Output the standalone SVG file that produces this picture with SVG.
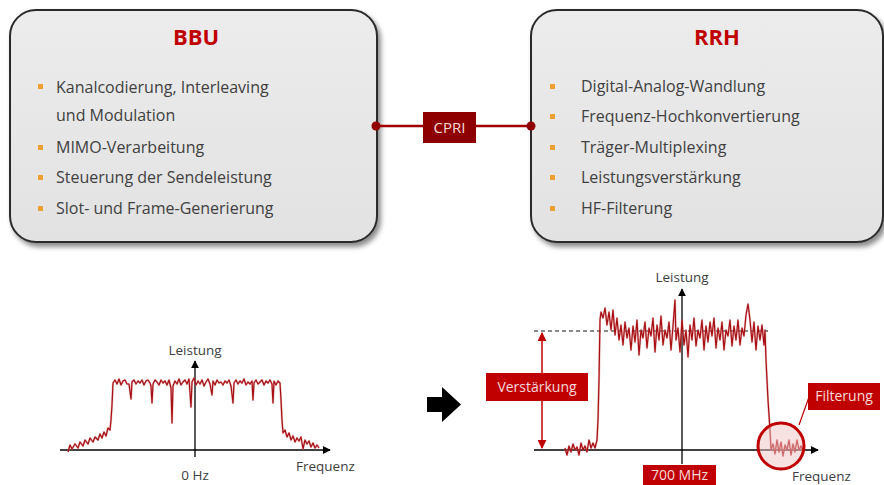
<svg xmlns="http://www.w3.org/2000/svg" width="884" height="485" viewBox="0 0 884 485">
<defs>
<filter id="sh" x="-10%" y="-10%" width="125%" height="125%">
<feDropShadow dx="3" dy="4" stdDeviation="2.5" flood-color="#000" flood-opacity="0.45"/>
</filter>
<linearGradient id="g" x1="0" y1="0" x2="0" y2="1">
<stop offset="0" stop-color="#ececec"/>
<stop offset="1" stop-color="#e2e2e2"/>
</linearGradient>
<marker id="ah" viewBox="0 0 10 10" refX="9" refY="5" markerWidth="8" markerHeight="8" markerUnits="userSpaceOnUse" orient="auto">
<path d="M0,0 L10,5 L0,10 z" fill="#000"/>
</marker>
<marker id="ra" viewBox="0 0 10 10" refX="9" refY="5" markerWidth="9" markerHeight="9" markerUnits="userSpaceOnUse" orient="auto-start-reverse">
<path d="M0,0 L10,5 L0,10 z" fill="#c00000"/>
</marker>
</defs>
<style>
.box{fill:url(#g);stroke:#2b2b2b;stroke-width:2;filter:url(#sh)}
.title{font-family:"Open Sans","Noto Sans",sans-serif;font-size:22px;font-weight:bold;fill:#c00000;text-anchor:middle}
.item{font-family:"Open Sans","Noto Sans",sans-serif;font-size:16px;fill:#404040}
.bul{fill:#f0a030}
.lbl{font-family:"Open Sans","Noto Sans",sans-serif;font-size:13.5px;fill:#404040}
.tag{font-family:"Open Sans","Noto Sans",sans-serif;font-size:14px;fill:#f7dada;text-anchor:middle}
.axis{stroke:#000;stroke-width:1.3;fill:none}
.sig{fill:none;stroke:#a80f14;stroke-width:1.2;stroke-linejoin:round}
.sig2{fill:none;stroke:#d47a7a;stroke-width:2.2;stroke-linejoin:round;opacity:0.5}
</style>

<g id="bbu">
<rect class="box" x="10" y="10" width="367" height="232" rx="26"/>
<text class="title" x="196" y="45">BBU</text>
<rect class="bul" x="38" y="84" width="5" height="5"/>
<text class="item" x="56" y="93">Kanalcodierung, Interleaving</text>
<text class="item" x="56" y="121">und Modulation</text>
<rect class="bul" x="38" y="145" width="5" height="5"/>
<text class="item" x="56" y="153">MIMO-Verarbeitung</text>
<rect class="bul" x="38" y="175" width="5" height="5"/>
<text class="item" x="56" y="183">Steuerung der Sendeleistung</text>
<rect class="bul" x="38" y="206" width="5" height="5"/>
<text class="item" x="56" y="214">Slot- und Frame-Generierung</text>
</g>

<g id="rrh">
<rect class="box" x="531" y="10" width="352" height="232" rx="26"/>
<text class="title" x="717" y="45">RRH</text>
<rect class="bul" x="550" y="84" width="5" height="5"/>
<text class="item" x="581" y="92">Digital-Analog-Wandlung</text>
<rect class="bul" x="550" y="114" width="5" height="5"/>
<text class="item" x="581" y="122">Frequenz-Hochkonvertierung</text>
<rect class="bul" x="550" y="145" width="5" height="5"/>
<text class="item" x="581" y="153">Träger-Multiplexing</text>
<rect class="bul" x="550" y="175" width="5" height="5"/>
<text class="item" x="581" y="183">Leistungsverstärkung</text>
<rect class="bul" x="550" y="206" width="5" height="5"/>
<text class="item" x="581" y="214">HF-Filterung</text>
</g>

<g id="connectors">
<line x1="376" y1="126" x2="531" y2="126" stroke="#a00000" stroke-width="2.5"/>
<circle cx="376" cy="126" r="4.5" fill="#900000"/>
<circle cx="531" cy="126" r="4.5" fill="#900000"/>
</g>

<g id="cpri">
<rect x="423" y="112" width="53" height="31" fill="#8e0000"/>
<text class="tag" x="449.5" y="133" style="font-size:15px">CPRI</text>
</g>

<g id="chart-left">
<line class="axis" x1="60" y1="450" x2="330" y2="450" marker-end="url(#ah)"/>
<line class="axis" x1="195" y1="457" x2="195" y2="361" marker-end="url(#ah)"/>
<text class="lbl" x="195" y="355" text-anchor="middle">Leistung</text>
<text class="lbl" x="195" y="480" text-anchor="middle">0 Hz</text>
<text class="lbl" x="296" y="471">Frequenz</text>
<polyline class="sig2" points="68,452 70,445 72,449 75,444 78,448 80,442 83,446 85,440 88,444 90,438 93,442 95,437 98,440 100,434 102,438 104,432 106,436 108,428 110,430 111,420 112,405 113,383 115,380 117,384 119,379 121,385 123,381 125,380 127,384 129,384 131,399 132,382 134,380 136,384 138,381 140,383 142,380 144,385 146,381 148,380 150,383 151,386 152,403 153,384 155,380 157,382 159,385 161,380 163,383 165,381 167,385 169,380 171,388 172,423 173,386 175,381 177,384 179,379 181,385 183,382 185,380 187,384 189,379 191,407 192,382 194,378 196,385 198,381 200,384 202,380 204,386 206,382 208,379 210,384 212,395 213,381 215,385 217,380 219,383 221,382 223,385 225,381 227,383 229,380 231,386 233,403 234,383 236,380 238,384 240,381 242,383 244,379 246,385 248,382 250,384 252,381 253,400 254,383 256,380 258,384 260,382 262,380 264,385 266,381 268,383 270,380 272,384 273,403 274,381 276,385 278,381 280,383 281,400 282,420 283,433 285,430 287,437 289,433 291,440 293,436 295,442 297,438 299,441 301,437 303,449 305,440 307,444 309,441 311,447 313,443 315,448 317,445 319,448"/>
<polyline class="sig" points="68,452 70,445 72,449 75,444 78,448 80,442 83,446 85,440 88,444 90,438 93,442 95,437 98,440 100,434 102,438 104,432 106,436 108,428 110,430 111,420 112,405 113,383 115,380 117,384 119,379 121,385 123,381 125,380 127,384 129,384 131,399 132,382 134,380 136,384 138,381 140,383 142,380 144,385 146,381 148,380 150,383 151,386 152,403 153,384 155,380 157,382 159,385 161,380 163,383 165,381 167,385 169,380 171,388 172,423 173,386 175,381 177,384 179,379 181,385 183,382 185,380 187,384 189,379 191,407 192,382 194,378 196,385 198,381 200,384 202,380 204,386 206,382 208,379 210,384 212,395 213,381 215,385 217,380 219,383 221,382 223,385 225,381 227,383 229,380 231,386 233,403 234,383 236,380 238,384 240,381 242,383 244,379 246,385 248,382 250,384 252,381 253,400 254,383 256,380 258,384 260,382 262,380 264,385 266,381 268,383 270,380 272,384 273,403 274,381 276,385 278,381 280,383 281,400 282,420 283,433 285,430 287,437 289,433 291,440 293,436 295,442 297,438 299,441 301,437 303,449 305,440 307,444 309,441 311,447 313,443 315,448 317,445 319,448"/>
</g>

<g id="arrow">
<path d="M427,397 L442,397 L442,387 L461,404.5 L442,422 L442,412 L427,412 z" fill="#000"/>
</g>

<g id="chart-right">
<line class="axis" x1="534" y1="450" x2="818" y2="450" marker-end="url(#ah)"/>
<line class="axis" x1="682" y1="464" x2="682" y2="289" marker-end="url(#ah)"/>
<line x1="534" y1="331" x2="768" y2="331" stroke="#111" stroke-width="1" stroke-dasharray="4,3"/>
<text class="lbl" x="682" y="282" text-anchor="middle">Leistung</text>
<text class="lbl" x="792" y="481">Frequenz</text>
<polyline class="sig2" points="565,448 567,455 569,446 571,452 573,444 575,450 577,447 579,455 581,443 583,450 585,446 587,452 589,440 591,448 593,443 595,448 597,440 598,420 599,380 600,320 601,312 603,318 605,308 607,325 609,312 611,330 613,310 615,335 617,318 619,340 621,325 623,345 625,322 627,338 629,328 631,350 633,326 635,342 637,320 639,355 641,330 643,338 645,322 647,348 649,328 651,336 653,318 655,352 657,325 659,340 661,316 663,345 665,330 667,338 669,322 671,350 673,326 675,300 676,340 678,328 680,352 682,320 684,345 686,330 688,357 690,325 692,340 694,318 696,346 698,330 700,338 702,320 704,350 706,326 708,342 710,322 712,336 714,318 716,348 718,328 720,340 722,322 724,350 726,330 728,336 730,320 732,346 734,326 736,340 738,320 740,345 742,328 744,336 746,315 748,304 750,320 752,342 754,322 756,350 758,326 760,340 762,325 764,345 765,330 766,360 768,400 770,430 771,450 773,444 775,454 777,440 779,452 781,442 783,456 785,445 787,450 789,440 791,455 793,444 795,452 797,440 799,450 801,446 803,452"/>
<polyline class="sig" points="565,448 567,455 569,446 571,452 573,444 575,450 577,447 579,455 581,443 583,450 585,446 587,452 589,440 591,448 593,443 595,448 597,440 598,420 599,380 600,320 601,312 603,318 605,308 607,325 609,312 611,330 613,310 615,335 617,318 619,340 621,325 623,345 625,322 627,338 629,328 631,350 633,326 635,342 637,320 639,355 641,330 643,338 645,322 647,348 649,328 651,336 653,318 655,352 657,325 659,340 661,316 663,345 665,330 667,338 669,322 671,350 673,326 675,300 676,340 678,328 680,352 682,320 684,345 686,330 688,357 690,325 692,340 694,318 696,346 698,330 700,338 702,320 704,350 706,326 708,342 710,322 712,336 714,318 716,348 718,328 720,340 722,322 724,350 726,330 728,336 730,320 732,346 734,326 736,340 738,320 740,345 742,328 744,336 746,315 748,304 750,320 752,342 754,322 756,350 758,326 760,340 762,325 764,345 765,330 766,360 768,400 770,430 771,450 773,444 775,454 777,440 779,452 781,442 783,456 785,445 787,450 789,440 791,455 793,444 795,452 797,440 799,450 801,446 803,452"/>
<line x1="542" y1="333" x2="542" y2="448" stroke="#c00000" stroke-width="1.5" marker-start="url(#ra)" marker-end="url(#ra)"/>
<circle cx="781" cy="446" r="23" fill="#f2c4c4" fill-opacity="0.5" stroke="#c00000" stroke-width="3"/>
<line x1="799" y1="425" x2="809" y2="397" stroke="#c00000" stroke-width="1.2"/>
</g>

<g id="verstaerkung">
<rect x="486" y="373" width="102" height="28" fill="#c00000"/>
<text class="tag" x="537" y="392">Verstärkung</text>
</g>

<g id="filterung">
<rect x="808" y="383" width="72" height="27" fill="#c00000"/>
<text class="tag" x="844" y="401">Filterung</text>
</g>

<g id="mhz">
<rect x="643" y="465" width="73" height="20" fill="#c00000"/>
<text class="tag" x="679.5" y="480">700 MHz</text>
</g>
</svg>
